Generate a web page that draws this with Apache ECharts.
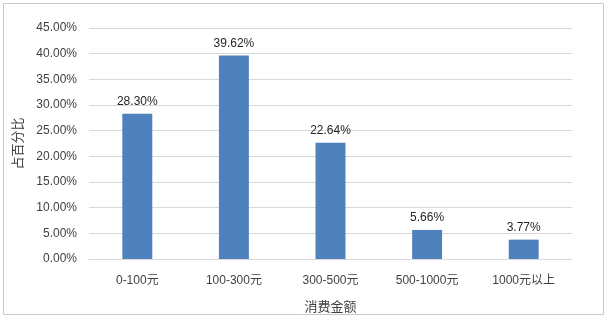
<!DOCTYPE html>
<html lang="zh">
<head>
    <meta charset="UTF-8">
    <title>消费金额占比</title>
    <script src="https://cdn.jsdelivr.net/npm/echarts@6/dist/echarts.min.js"></script>
    <style>
        html, body { margin: 0; padding: 0; background: #fff; }
    </style>
</head>
<body>
    <div id="main" style="width: 609px;height:319px;"></div>
    <script type="text/javascript">
        // 消费区间
        var categories = ['0-100元', '100-300元', '300-500元', '500-1000元', '1000元以上'];
        // 占比 (%)
        var percents = [28.30, 39.62, 22.64, 5.66, 3.77];
        // y轴刻度
        var yTicks = [0, 5, 10, 15, 20, 25, 30, 35, 40, 45];

        var myChart = echarts.init(document.getElementById('main'));
        var font = '"Liberation Sans", "Noto Sans CJK SC", sans-serif';

        var option = {
            animation: false,
            textStyle: { fontFamily: font },
            graphic: [{
                type: 'rect',
                shape: { x: 3.5, y: 3.5, width: 600, height: 311 },
                style: { fill: 'none', stroke: '#c8c8c8', lineWidth: 1 },
                silent: true
            }],
            grid: { left: 89, right: 37, top: 28, bottom: 60, containLabel: false, outerBoundsMode: 'none' },
            xAxis: {
                type: 'category',
                data: categories,
                name: '消费金额',
                nameLocation: 'middle',
                nameGap: 42,
                nameTextStyle: { color: '#404040', fontSize: 13, fontFamily: font },
                axisLine: { lineStyle: { color: '#d9d9d9' } },
                axisTick: { show: false },
                axisLabel: { color: '#404040', fontSize: 12, margin: 16, fontFamily: font }
            },
            yAxis: {
                type: 'value',
                min: yTicks[0],
                max: yTicks[yTicks.length - 1],
                interval: 5,
                name: '占百分比',
                nameLocation: 'middle',
                nameGap: 56,
                nameRotate: 90,
                nameTextStyle: { color: '#404040', fontSize: 13, fontFamily: font },
                axisLine: { show: false },
                axisTick: { show: false },
                splitLine: { lineStyle: { color: '#d9d9d9' } },
                axisLabel: {
                    color: '#404040', fontSize: 12, margin: 12, fontFamily: font,
                    formatter: function (v) { return v.toFixed(2) + '%'; }
                }
            },
            series: [{
                name: '占比',
                type: 'bar',
                data: percents,
                barWidth: '31%',
                itemStyle: { color: '#4f81bd' },
                label: {
                    show: true,
                    position: 'top',
                    distance: 6,
                    color: '#262626',
                    fontSize: 12,
                    fontFamily: font,
                    formatter: function (p) { return p.value.toFixed(2) + '%'; }
                }
            }]
        };

        myChart.setOption(option);
    </script>
</body>
</html>
